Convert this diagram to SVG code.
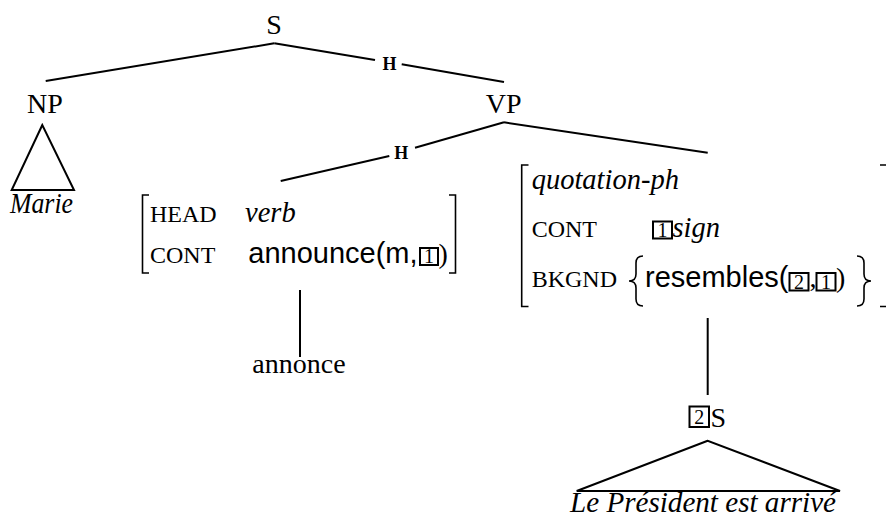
<svg xmlns="http://www.w3.org/2000/svg" width="886" height="519" viewBox="0 0 886 519">
<style>
.cat{font-family:"Liberation Serif",serif;font-size:28px;fill:#000}
.it{font-family:"Liberation Serif",serif;font-style:italic;font-size:28.5px;fill:#000}
.sc{font-family:"Liberation Serif",serif;font-size:24px;fill:#000}
.sf{font-family:"Liberation Sans",sans-serif;font-size:29px;fill:#000}
.rm{font-family:"Liberation Serif",serif;font-size:28px;fill:#000}
.h{font-family:"Liberation Serif",serif;font-weight:bold;font-size:18px;fill:#000}
.tag{font-family:"Liberation Serif",serif;font-size:20px;fill:#000}
.ln{stroke:#000;stroke-width:2;fill:none}
.br{stroke:#000;stroke-width:1.6;fill:none}
.box{stroke:#000;stroke-width:2;fill:none}
</style>
<g id="connectors">
<line class="ln" x1="274.3" y1="43.3" x2="45.7" y2="81"/>
<line class="ln" x1="274.3" y1="43.3" x2="375" y2="60"/>
<line class="ln" x1="401.7" y1="64.3" x2="504" y2="82"/>
<line class="ln" x1="504" y1="122.3" x2="415" y2="147.7"/>
<line class="ln" x1="389.3" y1="156" x2="280.7" y2="181"/>
<line class="ln" x1="504" y1="122.3" x2="707.7" y2="152.7"/>
<line class="ln" x1="300" y1="290" x2="300" y2="357"/>
<line class="ln" x1="707.7" y1="318" x2="707.7" y2="395"/>
<text class="h" x="389.5" y="70" text-anchor="middle">H</text>
<text class="h" x="401.3" y="159" text-anchor="middle">H</text>
</g>
<g id="S">
<text class="cat" x="274" y="33.5" text-anchor="middle">S</text>
</g>
<g id="NP">
<text class="cat" x="45" y="112.7" text-anchor="middle">NP</text>
<polygon class="ln" points="42.3,125 11.7,190 74,190"/>
<text class="it" x="10" y="213" textLength="63" lengthAdjust="spacingAndGlyphs">Marie</text>
</g>
<g id="VP">
<text class="cat" x="503.7" y="112.7" text-anchor="middle">VP</text>
</g>
<g id="verb-avm">
<path class="br" d="M149,195 H142.5 V273 H149"/>
<path class="br" d="M449,195 H455.5 V273 H449"/>
<text class="sc" x="150" y="222.3">HEAD</text>
<text class="it" x="245" y="222.3">verb</text>
<text class="sc" x="150" y="263.3">CONT</text>
<text class="sf" x="248.3" y="263.3">announce(m,</text>
<rect class="box" x="420" y="248" width="18" height="17"/>
<text class="tag" x="429" y="263" text-anchor="middle">1</text>
<text class="rm" x="438.5" y="263.3">)</text>
</g>
<g id="annonce">
<text class="rm" x="299" y="373" text-anchor="middle">annonce</text>
</g>
<g id="quote-avm">
<path class="br" d="M528.5,165 H521.7 V306.5 H528.5"/>
<path class="br" d="M880,165 H887 V306.5 H880"/>
<text class="it" x="531.7" y="188.5">quotation-ph</text>
<text class="sc" x="531.7" y="237.3">CONT</text>
<rect class="box" x="653" y="221.5" width="19" height="17"/>
<text class="tag" x="662.5" y="236.5" text-anchor="middle">1</text>
<text class="it" x="672.5" y="237.3">sign</text>
<text class="sc" x="531.7" y="286.7">BKGND</text>
<path class="br" d="M643,256 Q636,256 636,263 L636,274 Q636,281 629,281 Q636,281 636,288 L636,299 Q636,306 643,306"/>
<text class="sf" x="645" y="286.7">resembles(</text>
<rect class="box" x="789.5" y="273" width="19" height="17.5"/>
<text class="tag" x="799" y="288.5" text-anchor="middle">2</text>
<text class="rm" x="809.5" y="286.7">,</text>
<rect class="box" x="816.5" y="273" width="19" height="17.5"/>
<text class="tag" x="826" y="288.5" text-anchor="middle">1</text>
<text class="rm" x="836" y="286.7">)</text>
<path class="br" d="M857,256 Q864,256 864,263 L864,274 Q864,281 871,281 Q864,281 864,288 L864,299 Q864,306 857,306"/>
</g>
<g id="S2">
<rect class="box" x="689.5" y="406.5" width="19.5" height="20.5"/>
<text class="tag" x="699.2" y="424" text-anchor="middle">2</text>
<text class="cat" x="710.5" y="426.7">S</text>
<polygon class="ln" points="707.7,440.7 576.7,491 840,491"/>
<text class="it" x="570" y="512" textLength="266" lengthAdjust="spacingAndGlyphs">Le Président est arrivé</text>
</g>
</svg>
